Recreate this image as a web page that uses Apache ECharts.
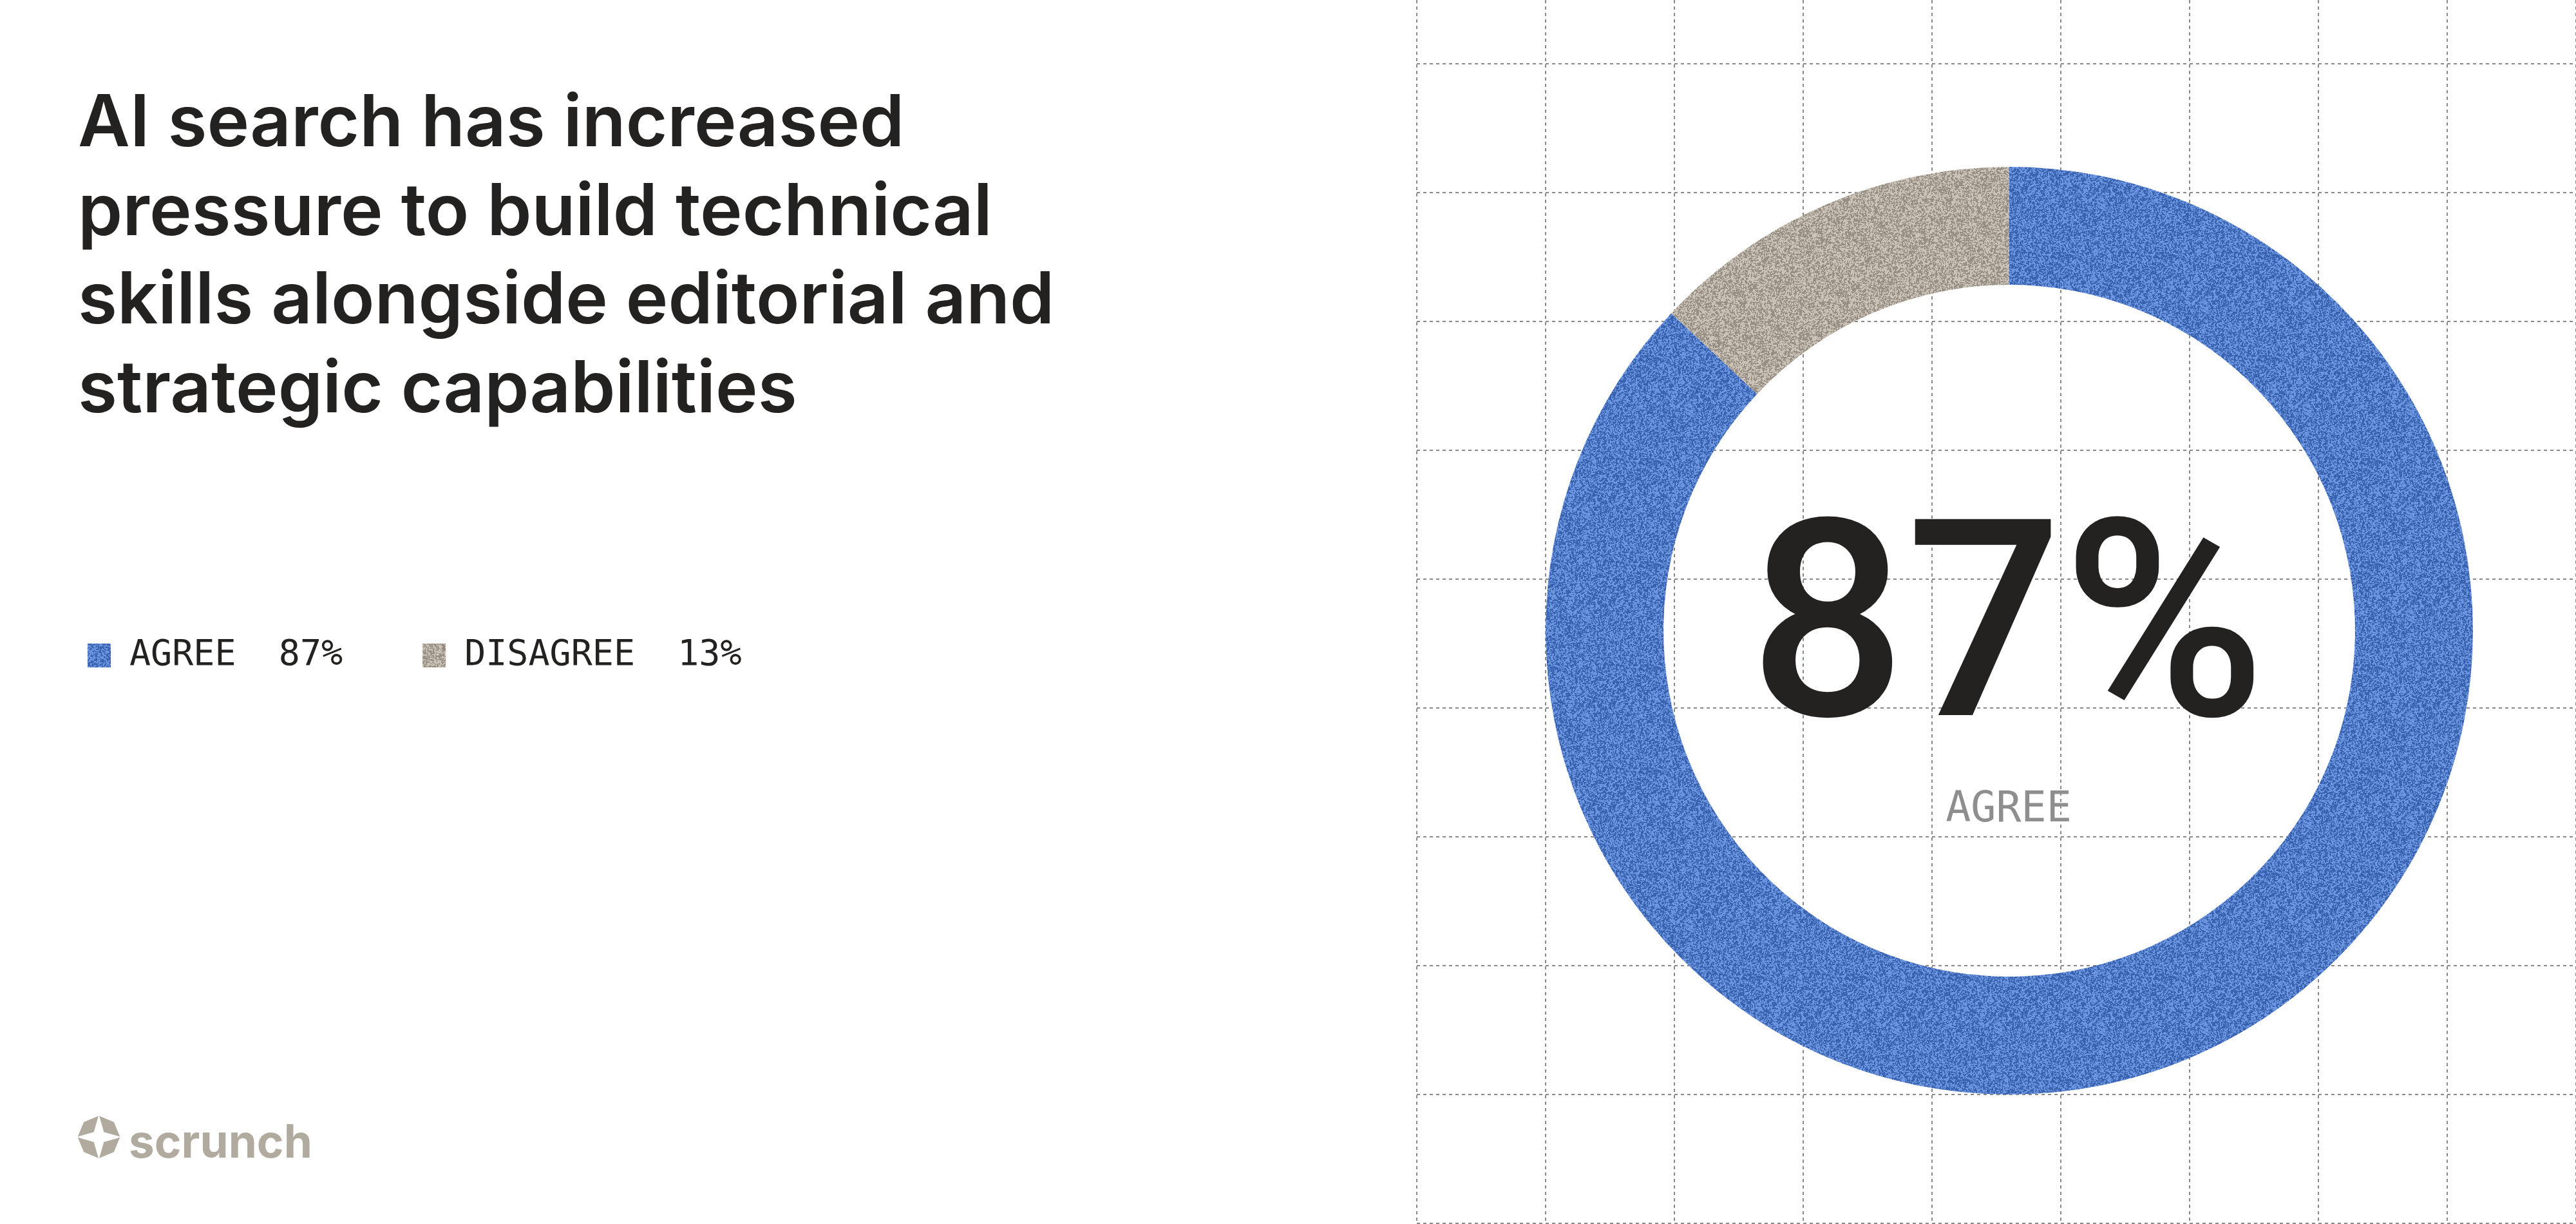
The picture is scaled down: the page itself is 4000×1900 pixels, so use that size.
<!DOCTYPE html>
<html>
<head>
<meta charset="utf-8">
<script src="https://cdn.jsdelivr.net/npm/echarts@6/dist/echarts.min.js"></script>
<style>
  html, body { margin: 0; padding: 0; background: #ffffff; }
  #chart { width: 4000px; height: 1900px; }
</style>
</head>
<body>
<div id="chart"></div>
<script>
// ---- data ----
const categories = ['AGREE', 'DISAGREE'];
const values = [87, 13];
const titleLines = [
  'AI search has increased',
  'pressure to build technical',
  'skills alongside editorial and',
  'strategic capabilities'
];
const brandName = 'scrunch';

// ---- grainy texture (deterministic, style only) ----
function makeGrain(dark, light, seed) {
  const N = 160;
  const c = document.createElement('canvas');
  c.width = N; c.height = N;
  const ctx = c.getContext('2d');
  let s = seed >>> 0;
  const rnd = () => { s = (Math.imul(s, 1664525) + 1013904223) >>> 0; return s / 4294967296; };
  const v = new Float32Array(N * N);
  for (let i = 0; i < N * N; i++) v[i] = rnd();
  const img = ctx.createImageData(N, N);
  const idx = (x, y) => ((y + N) % N) * N + ((x + N) % N);
  for (let y = 0; y < N; y++) {
    for (let x = 0; x < N; x++) {
      const b = (v[idx(x, y)] * 2 + v[idx(x + 1, y)] + v[idx(x - 1, y)] + v[idx(x, y + 1)] + v[idx(x, y - 1)]) / 6;
      const col = b > 0.5 ? light : dark;
      const p = (y * N + x) * 4;
      img.data[p] = col[0]; img.data[p + 1] = col[1]; img.data[p + 2] = col[2]; img.data[p + 3] = 255;
    }
  }
  ctx.putImageData(img, 0, 0);
  return { image: c, repeat: 'repeat' };
}
const blueGrain = makeGrain([56, 98, 176], [108, 150, 224], 12345);
const greyGrain = makeGrain([150, 142, 131], [203, 195, 183], 67890);
const sliceColors = [blueGrain, greyGrain];

const chart = echarts.init(document.getElementById('chart'), null, { renderer: 'canvas' });

const titleSize = 111;
const titleBaselines = [232, 370, 507.5, 645];
const graphics = titleLines.map((t, i) => ({
  type: 'text',
  left: 121,
  top: titleBaselines[i] - 0.85 * titleSize,
  style: {
    text: t,
    font: '600 ' + titleSize + 'px Inter',
    fill: '#232220'
  },
  z: 10
}));

// center big number
graphics.push({
  type: 'text',
  x: 3117,
  y: 1003,
  style: {
    text: values[0] + '%',
    font: '500 428px Roboto',
    fill: '#232220',
    align: 'center',
    verticalAlign: 'middle'
  },
  z: 20
});
graphics.push({
  type: 'text',
  x: 3119,
  y: 1258,
  style: {
    text: categories[0],
    font: '65px "DejaVu Sans Mono"',
    fill: '#8e8e8e',
    align: 'center',
    verticalAlign: 'middle'
  },
  z: 20
});

// logo icon
const lcx = 153.5, lcy = 1765, R = 33;
const oct = [];
for (let k = 0; k < 8; k++) {
  const a = Math.PI / 2 + k * Math.PI / 4;
  oct.push([lcx + R * Math.cos(a), lcy - R * Math.sin(a)]);
}
const star = [];
for (let k = 0; k < 8; k++) {
  const a = Math.PI / 2 + k * Math.PI / 4;
  const r = (k % 2 === 0) ? R + 2 : 11;
  star.push([lcx + r * Math.cos(a), lcy - r * Math.sin(a)]);
}
graphics.push({ type: 'polygon', shape: { points: oct }, style: { fill: '#b1aa9f' }, z: 10 });
graphics.push({ type: 'polygon', shape: { points: star }, style: { fill: '#ffffff' }, z: 11 });
graphics.push({
  type: 'text',
  x: 200,
  y: 1797 - 0.3 * 71,
  style: {
    text: brandName,
    font: '700 71px Inter',
    fill: '#b1aa9f',
    verticalAlign: 'middle'
  },
  z: 10
});

const gridLine = { show: true, lineStyle: { color: '#888888', width: 2, type: [5, 5] } };
const hidden = { axisLine: { show: false }, axisTick: { show: false }, axisLabel: { show: false } };

const option = {
  animation: false,
  backgroundColor: '#ffffff',
  grid: [
    { left: 2200, right: 0, top: 0, bottom: 0 },
    { left: 2200, right: 0, top: 99, bottom: 1 }
  ],
  xAxis: [
    Object.assign({ type: 'value', gridIndex: 0, min: 0, max: 9, interval: 1, splitLine: gridLine }, hidden),
    Object.assign({ type: 'value', gridIndex: 1, min: 0, max: 9, interval: 1, splitLine: { show: false } }, hidden)
  ],
  yAxis: [
    Object.assign({ type: 'value', gridIndex: 0, min: 0, max: 1, interval: 1, splitLine: { show: false } }, hidden),
    Object.assign({ type: 'value', gridIndex: 1, min: 0, max: 9, interval: 1, splitLine: gridLine }, hidden)
  ],
  legend: {
    left: 136,
    top: 990,
    padding: 0,
    icon: 'rect',
    itemWidth: 36,
    itemHeight: 37,
    itemGap: 124,
    selectedMode: false,
    data: categories,
    formatter: function (name) {
      const i = categories.indexOf(name);
      return name + '  ' + values[i] + '%';
    },
    textStyle: {
      fontFamily: 'DejaVu Sans Mono',
      fontSize: 55,
      color: '#232220',
      padding: [0, 0, 0, 24]
    }
  },
  series: [{
    type: 'pie',
    center: [3120, 979],
    radius: [537, 720],
    startAngle: 90,
    clockwise: true,
    silent: true,
    label: { show: false },
    labelLine: { show: false },
    itemStyle: { borderWidth: 0 },
    z: 5,
    data: categories.map((c, i) => ({ name: c, value: values[i], itemStyle: { color: sliceColors[i] } }))
  }],
  graphic: graphics
};
chart.setOption(option);
</script>
</body>
</html>
